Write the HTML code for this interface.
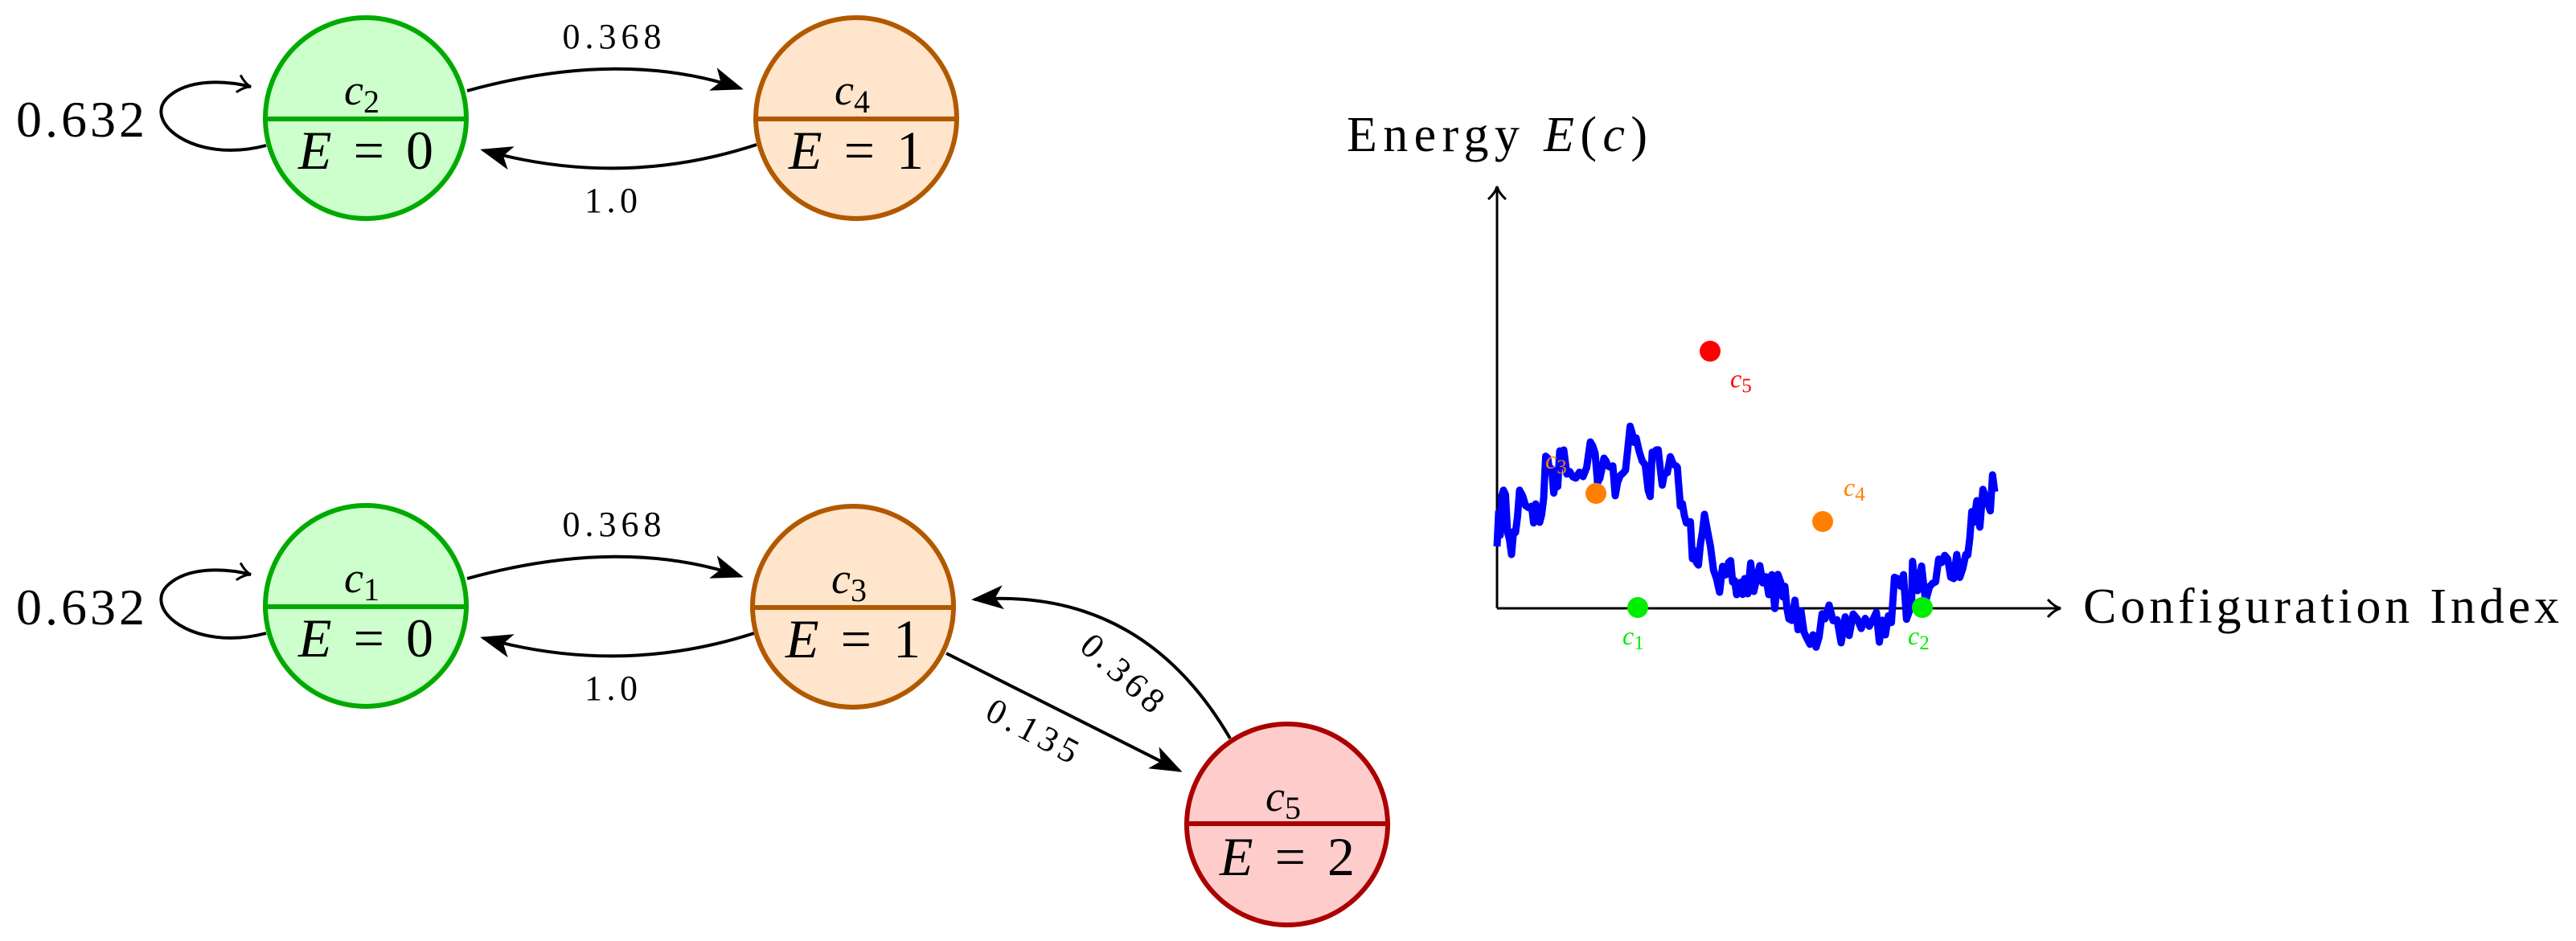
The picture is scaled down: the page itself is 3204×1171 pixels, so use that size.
<!DOCTYPE html>
<html><head><meta charset="utf-8"><style>html,body{margin:0;padding:0;background:#fff}svg{display:block}</style></head>
<body>
<svg id="s" width="3204" height="1171" viewBox="0 0 3204 1171" xmlns="http://www.w3.org/2000/svg" font-family="Liberation Serif, serif">
<defs>
<marker id="A" viewBox="0 0 40 30" refX="36" refY="15" markerWidth="40" markerHeight="30" orient="auto" markerUnits="userSpaceOnUse">
<path d="M0,0 L40,15 L0,30 L10,15 Z" fill="#000"/></marker>
<marker id="L" viewBox="0 0 20 24" refX="18" refY="12" markerWidth="20" markerHeight="24" orient="auto" markerUnits="userSpaceOnUse">
<path d="M2,1 Q10,10 18,12 Q10,14 2,23" fill="none" stroke="#000" stroke-width="3"/></marker>
</defs>
<g stroke="#000" stroke-width="4" fill="none">
<path d="M581,113 Q773,60 921,110" marker-end="url(#A)"/>
<path d="M941,180 Q773,235 601,187" marker-end="url(#A)"/>
<path d="M331,181 C240,205 175,150 210,120 C235,98 280,100 312,108" marker-end="url(#L)"/>
<path d="M581,720 Q773,667 921,717" marker-end="url(#A)"/>
<path d="M941,787 Q773,842 601,794" marker-end="url(#A)"/>
<path d="M331,788 C240,812 175,757 210,727 C235,705 280,707 312,715" marker-end="url(#L)"/>
<path d="M1177,813 L1467,959" marker-end="url(#A)"/>
<path d="M1530,919 Q1420,730 1212,746" marker-end="url(#A)"/>
</g>
<g font-size="44" text-anchor="middle">
<text x="761" y="60" textLength="123">0.368</text>
<text x="760" y="264" textLength="66">1.0</text>
<text x="761" y="667" textLength="123">0.368</text>
<text x="760" y="871" textLength="66">1.0</text>
<text x="1284" y="924" textLength="123" transform="rotate(28 1284 910)">0.135</text>
<text x="1396" y="852" textLength="123" transform="rotate(42 1396 838)">0.368</text>
</g>
<g font-size="64" text-anchor="middle">
<text x="100" y="170" textLength="160">0.632</text>
<text x="100" y="777" textLength="160">0.632</text>
</g>
<g stroke-width="6">
<circle cx="455" cy="147" r="125" fill="#ccffcc" stroke="#00aa00"/><line x1="330" y1="148" x2="580" y2="148" stroke="#00aa00"/>
<circle cx="1065" cy="147" r="125" fill="#ffe5cc" stroke="#b25900"/><line x1="940" y1="148" x2="1190" y2="148" stroke="#b25900"/>
<circle cx="455" cy="754" r="125" fill="#ccffcc" stroke="#00aa00"/><line x1="330" y1="755" x2="580" y2="755" stroke="#00aa00"/>
<circle cx="1061" cy="755" r="125" fill="#ffe5cc" stroke="#b25900"/><line x1="936" y1="756" x2="1186" y2="756" stroke="#b25900"/>
<circle cx="1601" cy="1026" r="125" fill="#ffcccc" stroke="#aa0000"/><line x1="1476" y1="1025" x2="1726" y2="1025" stroke="#aa0000"/>
</g>
<g text-anchor="middle">
<g font-size="54" font-style="italic">
<text x="450" y="130">c<tspan font-size="40" font-style="normal" dy="10">2</tspan></text>
<text x="1060" y="130">c<tspan font-size="40" font-style="normal" dy="10">4</tspan></text>
<text x="450" y="737">c<tspan font-size="40" font-style="normal" dy="10">1</tspan></text>
<text x="1056" y="738">c<tspan font-size="40" font-style="normal" dy="10">3</tspan></text>
<text x="1596" y="1009">c<tspan font-size="40" font-style="normal" dy="10">5</tspan></text>
</g>
<g font-size="68">
<text x="455" y="210" textLength="168"><tspan font-style="italic">E</tspan> = 0</text>
<text x="1065" y="210" textLength="168"><tspan font-style="italic">E</tspan> = 1</text>
<text x="455" y="817" textLength="168"><tspan font-style="italic">E</tspan> = 0</text>
<text x="1061" y="818" textLength="168"><tspan font-style="italic">E</tspan> = 1</text>
<text x="1601" y="1089" textLength="168"><tspan font-style="italic">E</tspan> = 2</text>
</g>
</g>
<g stroke="#000" stroke-width="3" fill="none">
<line x1="1862" y1="757" x2="1862" y2="232" marker-end="url(#L)"/>
<line x1="1862" y1="757" x2="2563" y2="757" marker-end="url(#L)"/>
</g>
<text x="1675" y="188" font-size="62" textLength="374">Energy <tspan font-style="italic">E</tspan>(<tspan font-style="italic">c</tspan>)</text>
<text x="2591" y="775" font-size="62" textLength="592">Configuration Index</text>
<polyline id="curve" fill="none" stroke="#0000ff" stroke-width="9" stroke-linejoin="round" points=""/>
<circle cx="2127" cy="437" r="13" fill="#ff0000"/>
<circle cx="1985" cy="614" r="13" fill="#ff8000"/>
<circle cx="2267" cy="649" r="13" fill="#ff8000"/>
<circle cx="2037" cy="756" r="13" fill="#00ee00"/>
<circle cx="2391" cy="756" r="13" fill="#00ee00"/>
<g font-size="32" font-style="italic">
<text x="2152" y="482" fill="#ff0000">c<tspan font-size="25" font-style="normal" dy="6">5</tspan></text>
<text x="2293" y="617" fill="#ff8000">c<tspan font-size="25" font-style="normal" dy="6">4</tspan></text>
<text x="1922" y="583" fill="#ff8000">c<tspan font-size="25" font-style="normal" dy="6">3</tspan></text>
<text x="2018" y="802" fill="#00ee00">c<tspan font-size="25" font-style="normal" dy="6">1</tspan></text>
<text x="2373" y="802" fill="#00ee00">c<tspan font-size="25" font-style="normal" dy="6">2</tspan></text>
</g>
</svg>
<script>
var b=[[1862,680],[1870,610],[1880,690],[1890,610],[1905,630],[1915,650],[1925,570],[1935,600],[1945,560],[1960,595],[1978,550],[1990,595],[2000,580],[2012,600],[2025,555],[2035,545],[2050,610],[2060,560],[2070,590],[2085,580],[2090,630],[2100,650],[2110,700],[2120,640],[2135,720],[2150,700],[2160,740],[2170,720],[2185,720],[2200,740],[2215,725],[2225,770],[2240,760],[2255,790],[2270,770],[2290,800],[2310,770],[2330,770],[2345,790],[2360,720],[2375,760],[2380,710],[2400,730],[2415,700],[2430,720],[2445,690],[2455,650],[2470,620],[2481,612]];
var seed=7;function r(){seed=(seed*16807)%2147483647;return seed/2147483647-0.5;}
var p=[];for(var i=0;i<b.length-1;i++){var x0=b[i][0],y0=b[i][1],x1=b[i+1][0],y1=b[i+1][1];for(var t=0;t<4;t++){var f=t/4;var y=y0+(y1-y0)*f+(t?r()*50:0);p.push((x0+(x1-x0)*f).toFixed(1)+","+y.toFixed(1));}}
p.push("2481,612");document.getElementById("curve").setAttribute("points",p.join(" "));
</script>
</body></html>
